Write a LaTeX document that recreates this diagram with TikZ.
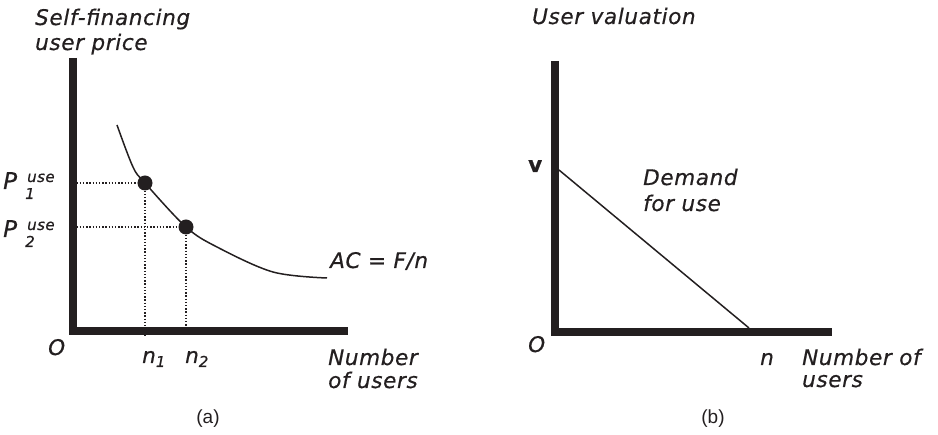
\documentclass[tikz,border=0pt]{standalone}
\usepackage{fontspec}
\setmainfont{DejaVu Sans}[LetterSpace=3, FakeBold=0.6]
\newfontfamily\capfont{Liberation Sans}
\definecolor{ink}{HTML}{231F20}
\tikzset{
  lbl/.style={anchor=base west, inner sep=0pt, text=ink, font=\fontsize{21.5}{25}\selectfont\itshape},
  uplbl/.style={anchor=base west, inner sep=0pt, text=ink, font=\fontsize{21.5}{25}\selectfont\bfseries},
  caplbl/.style={anchor=base, inner sep=0pt, text=ink, font=\fontsize{19}{22}\capfont},
  axisline/.style={line width=8pt, draw=ink, line join=miter, line cap=butt},
  curveline/.style={line width=1.5pt, draw=ink},
  guide/.style={line width=1.4pt, draw=ink, dash pattern=on 1.4pt off 1.8pt},
  dotnode/.style={circle, fill=ink, inner sep=0pt, minimum size=15pt}
}
\newcommand{\smallsz}{\fontsize{15}{15}\selectfont}
\begin{document}
\begin{tikzpicture}[x=1pt,y=-1pt]
\useasboundingbox (0,0) rectangle (938,435);
% ---------- panel (a) ----------
\coordinate (ya) at (72.5,58);
\coordinate (oa) at (72.5,331.5);
\coordinate (xa) at (348,331.5);
\draw[axisline] (ya) |- (xa);
\node[dotnode] (d1) at (145,183) {};
\node[dotnode] (d2) at (186,227) {};
\draw[curveline] plot[smooth, tension=0.55] coordinates {(117,125) (133,167) (145,183) (186,227) (217,247) (273,272) (327,278)};
\coordinate (h1) at ([xshift=4pt]d1 -| ya);
\coordinate (h2) at ([xshift=4pt]d2 -| ya);
\coordinate (v1) at ([yshift=-4pt]d1 |- oa);
\coordinate (v2) at ([yshift=-4pt]d2 |- oa);
\draw[guide] (h1) -- (d1);
\draw[guide] (h2) -- (d2);
\draw[guide] (d1) -- (v1);
\draw[guide] (d2) -- (v2);
\node[lbl] (ta1) at (35,25) {Self-financing};
\node[lbl] (ta2) at (35,50) {user price};
\node[lbl, font=\fontsize{23}{25}\selectfont\itshape] (pa1) at (3,189) {P};
\node[lbl, font=\smallsz\itshape] (pa1s) at (27,182) {use};
\node[lbl, font=\smallsz\itshape] (pa1b) at (25,199) {1};
\node[lbl, font=\fontsize{23}{25}\selectfont\itshape] (pa2) at (3,237) {P};
\node[lbl, font=\smallsz\itshape] (pa2s) at (27,230) {use};
\node[lbl, font=\smallsz\itshape] (pa2b) at (25,247) {2};
\node[lbl] (oal) at (48,355) {O};
\node[lbl] (n1) at (142,363) {n\raisebox{-4pt}{\smallsz 1}};
\node[lbl] (n2) at (185,363) {n\raisebox{-4pt}{\smallsz 2}};
\node[lbl] (xl1) at (328,365) {Number};
\node[lbl] (xl2) at (328,388) {of users};
\node[lbl] (ac) at (330,268) {AC = F/n};
\node[caplbl] (capa) at (208,424) {(a)};
% ---------- panel (b) ----------
\coordinate (yb) at (555,61);
\coordinate (ob) at (555,332);
\coordinate (xb) at (832,332);
\draw[axisline] (yb) |- (xb);
\coordinate (vv) at (559,170);
\coordinate (nn) at (749,328);
\draw[curveline] (vv) -- (nn);
\node[lbl] (tb1) at (532,24) {User valuation};
\node[uplbl] (vl) at (528,172) {v};
\node[lbl] (dm1) at (643,185) {Demand};
\node[lbl] (dm2) at (643,211) {for use};
\node[lbl] (obl) at (528,352) {O};
\node[lbl] (nl) at (760,365) {n};
\node[lbl] (xb1) at (802,365) {Number of};
\node[lbl] (xb2) at (802,387) {users};
\node[caplbl] (capb) at (713,424) {(b)};
\end{tikzpicture}
\end{document}
